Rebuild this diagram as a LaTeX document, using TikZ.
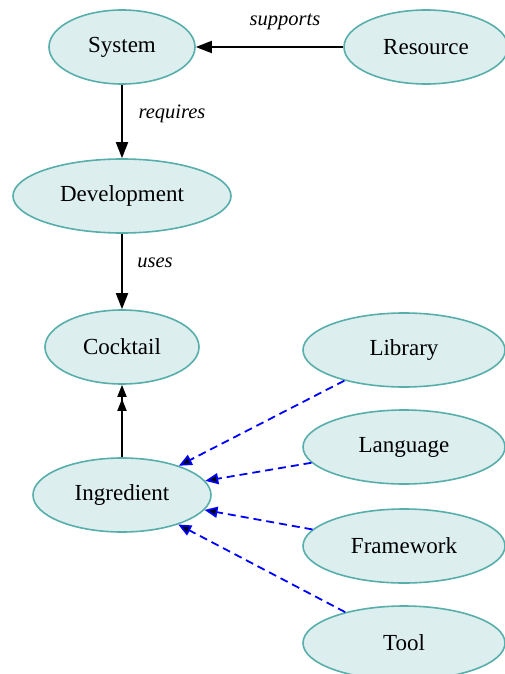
\documentclass[tikz,border=0pt]{standalone}
\usepackage{fontspec}
\setmainfont{Liberation Serif}
\usetikzlibrary{arrows.meta,shapes.geometric}
\definecolor{nodefill}{RGB}{220,238,238}
\definecolor{nodeline}{RGB}{88,174,170}
\begin{document}
\begin{tikzpicture}[x=1pt,y=1pt,
  ent/.style={ellipse,draw=nodeline,fill=nodefill,line width=1.6pt,inner sep=0pt,
    font=\fontsize{23}{27}\selectfont},
  rel/.style={line width=1.8pt,-{Triangle[length=16pt,width=12pt]}},
  dbl/.style={line width=1.8pt,-{Triangle[length=12pt,width=9pt,sep=2pt]Triangle[length=12pt,width=9pt]}},
  dep/.style={blue,line width=1.8pt,dash pattern=on 8pt off 5pt,
    -{Triangle[length=13pt,width=11pt,fill=black]}},
  lbl/.style={font=\fontsize{20.5}{24}\selectfont\itshape}]
\useasboundingbox (0,0) rectangle (505,-674);
\node[ent,minimum width=146pt,minimum height=74pt] (sys) at (122,-47) {System};
\node[ent,minimum width=164pt,minimum height=74pt] (res) at (426,-47) {Resource};
\node[ent,minimum width=218pt,minimum height=74pt] (dev) at (122,-196) {Development};
\node[ent,minimum width=154pt,minimum height=74pt] (coc) at (122,-347) {Cocktail};
\node[ent,minimum width=178pt,minimum height=74pt] (ing) at (122,-495) {Ingredient};
\node[ent,minimum width=202pt,minimum height=74pt] (lib) at (404,-350) {Library};
\node[ent,minimum width=202pt,minimum height=74pt] (lan) at (404,-447) {Language};
\node[ent,minimum width=202pt,minimum height=74pt] (fra) at (404,-546) {Framework};
\node[ent,minimum width=202pt,minimum height=74pt] (too) at (404,-643) {Tool};
\draw[rel] (res) -- (sys);
\draw[rel] (sys) -- (dev);
\draw[rel] (dev) -- (coc);
\draw[dbl] (ing) -- (coc);
\draw[dep] (lib) -- (ing);
\draw[dep] (lan) -- (ing);
\draw[dep] (fra) -- (ing);
\draw[dep] (too) -- (ing);
\node[lbl] (l1) at (285,-22) {supports};
\node[lbl] (l2) at (172,-114) {requires};
\node[lbl] (l3) at (155,-263) {uses};
\end{tikzpicture}
\end{document}
